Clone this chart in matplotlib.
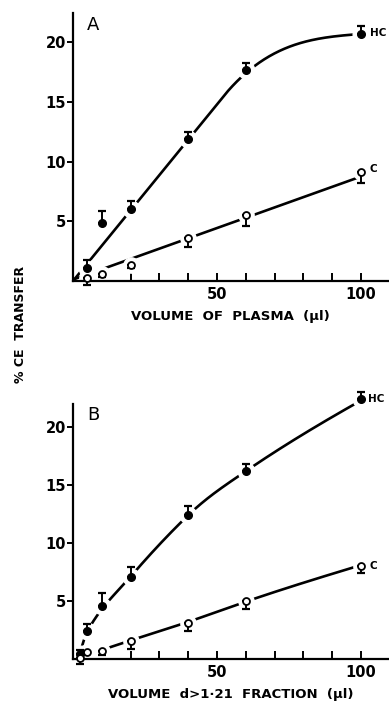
import numpy as np
import matplotlib
matplotlib.use("Agg")
import matplotlib.pyplot as plt

# ---------------- data ----------------
# Panel A: volume of plasma
a_x = [5, 10, 20, 40, 60, 100]
a_hc = [1.06, 4.83, 6.03, 11.87, 17.67, 20.66]
a_hc_err = [0.70, 1.03, 0.67, 0.58, 0.63, 0.70]
a_c = [0.28, 0.59, 1.34, 3.57, 5.53, 9.10]
a_c_err = [0.60, 0.25, 0.25, 0.75, 0.90, 0.85]

# Panel B: volume d>1.21 fraction
b_x = [2.5, 5, 10, 20, 40, 60, 100]
b_hc = [0.43, 2.42, 4.60, 7.10, 12.46, 16.20, 22.40]
b_hc_err = [0.35, 0.60, 1.10, 0.80, 0.75, 0.60, 0.60]
b_c = [0.05, 0.60, 0.65, 1.58, 3.13, 5.03, 8.03]
b_c_err = [0.50, 0.20, 0.30, 0.72, 0.71, 0.73, 0.58]

# hand-drawn fitted curves: knots (x, y) and slopes at the knots
a_hc_curve_x = [0, 52, 100]
a_hc_curve_y = [0.0, 15.4, 20.7]
a_hc_curve_m = [0.296, 0.295, 0.02]
a_c_curve_x = [0, 100]
a_c_curve_y = [0.12, 8.75]
a_c_curve_m = [0.0863, 0.0863]
b_hc_curve_x = [2, 5, 20, 40, 60, 100]
b_hc_curve_y = [0.2, 2.4, 7.1, 12.4, 16.2, 22.3]
b_hc_curve_m = [0.75, 0.45, 0.29, 0.24, 0.17, 0.14]
b_c_curve_x = [1.5, 10, 20, 40, 60, 100]
b_c_curve_y = [0.3, 0.8, 1.6, 3.2, 4.95, 8.1]
b_c_curve_m = [0.05, 0.07, 0.08, 0.085, 0.085, 0.075]

xticks_major = [50, 100]
xticks_minor = [10, 20, 30, 40, 60, 70, 80, 90]
yticks = [5, 10, 15, 20]


def hermite(xk, yk, mk, n=400):
    xk = np.asarray(xk, float)
    yk = np.asarray(yk, float)
    mk = np.asarray(mk, float)
    xs = np.linspace(xk[0], xk[-1], n)
    ys = np.empty_like(xs)
    for j, x in enumerate(xs):
        i = min(np.searchsorted(xk, x, side="right") - 1, len(xk) - 2)
        h = xk[i + 1] - xk[i]
        t = (x - xk[i]) / h
        h00 = 2 * t**3 - 3 * t**2 + 1
        h10 = t**3 - 2 * t**2 + t
        h01 = -2 * t**3 + 3 * t**2
        h11 = t**3 - t**2
        ys[j] = h00 * yk[i] + h10 * h * mk[i] + h01 * yk[i + 1] + h11 * h * mk[i + 1]
    return xs, ys


plt.rcParams['font.family'] = ['DejaVu Sans']
fig = plt.figure(figsize=(3.89, 7.02), dpi=100)

W, H = 389.0, 702.0
left = 73 / W
width = (388 - 73) / W
axA = fig.add_axes([left, 1 - 281 / H, width, (281 - 13) / H])
axB = fig.add_axes([left, 1 - 659 / H, width, (659 - 404) / H])


def draw(ax, x, hc, hce, c, ce, hcurve, ccurve, ylim, xlabel, letter, hc_lab, c_lab):
    ax.set_xlim(0, 109.4)
    ax.set_ylim(0, ylim)
    for s in ['top', 'right']:
        ax.spines[s].set_visible(False)
    for s in ['left', 'bottom']:
        ax.spines[s].set_linewidth(1.6)
    xs, ys = hermite(*hcurve)
    ax.plot(xs, ys, color='black', lw=1.9, zorder=2, clip_on=False, solid_capstyle='butt')
    xs, ys = hermite(*ccurve)
    ax.plot(xs, ys, color='black', lw=1.9, zorder=2, clip_on=False, solid_capstyle='butt')
    # white halos (gaps around points)
    ax.plot(x, hc, 'o', ms=12, color='white', mec='white', zorder=2.2, clip_on=False)
    ax.plot(x, c, 'o', ms=11, color='white', mec='white', zorder=2.2, clip_on=False)
    # error bars
    ax.errorbar(x, hc, yerr=[np.zeros(len(hce)), hce], fmt='none', ecolor='black',
                elinewidth=1.4, capsize=3, capthick=1.6, zorder=3, clip_on=False)
    ax.errorbar(x, c, yerr=[ce, np.zeros(len(ce))], fmt='none', ecolor='black',
                elinewidth=1.4, capsize=3, capthick=1.6, zorder=3, clip_on=False)
    ax.plot(x, hc, 'o', ms=5.5, color='black', mec='black', zorder=4, clip_on=False)
    ax.plot(x, c, 'o', ms=5, mfc='white', mec='black', mew=1.3, zorder=4, clip_on=False)

    ax.set_xticks(xticks_major)
    ax.set_xticklabels(['50', '100'], fontweight='bold')
    ax.set_xticks(xticks_minor, minor=True)
    ax.tick_params(axis='x', which='both', direction='in', length=5.5, width=1.4,
                   labelsize=10.5, pad=4)
    ax.set_yticks(yticks)
    ax.set_yticklabels([str(v) for v in yticks], fontweight='bold')
    ax.tick_params(axis='y', direction='out', length=4, width=1.4, labelsize=10.5, pad=1)
    ax.set_xlabel(xlabel, fontsize=9.5, labelpad=6, fontweight='bold')
    ax.text(0.065, 0.955, letter, transform=ax.transAxes, fontsize=13, va='center', ha='center')
    ax.text(hc_lab[0], hc_lab[1], 'HC', fontsize=7.5, ha='left', va='center', clip_on=False,
            fontweight='bold')
    ax.text(c_lab[0], c_lab[1], 'C', fontsize=7.5, ha='left', va='center', clip_on=False,
            fontweight='bold')


draw(axA, a_x, a_hc, a_hc_err, a_c, a_c_err,
     (a_hc_curve_x, a_hc_curve_y, a_hc_curve_m), (a_c_curve_x, a_c_curve_y, a_c_curve_m),
     22.45, 'VOLUME  OF  PLASMA  (\u03bcl)', 'A', (103.0, 20.75), (103.0, 9.4))
draw(axB, b_x, b_hc, b_hc_err, b_c, b_c_err,
     (b_hc_curve_x, b_hc_curve_y, b_hc_curve_m), (b_c_curve_x, b_c_curve_y, b_c_curve_m),
     22.0, 'VOLUME  d>1\u00b721  FRACTION  (\u03bcl)', 'B', (102.5, 22.4), (103.0, 8.05))

fig.text(21 / W, 1 - 324 / H, '% CE  TRANSFER', rotation=90, ha='center', va='center',
         fontsize=9, fontweight='bold')

fig.savefig('out.png', dpi=100)
